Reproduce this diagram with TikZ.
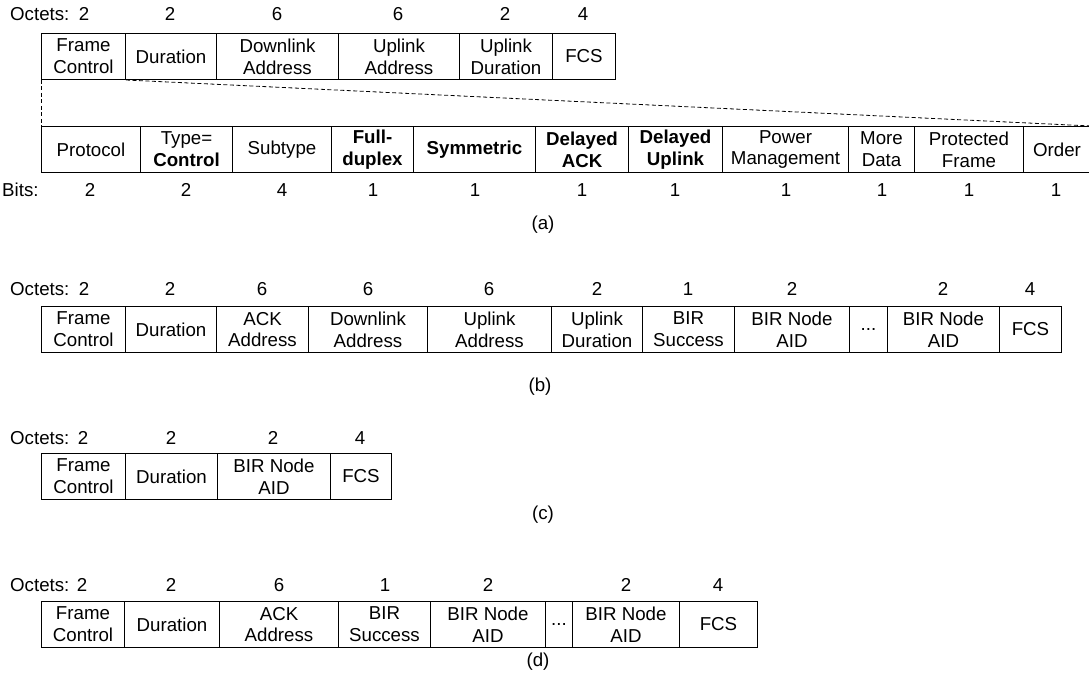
\documentclass[tikz,border=0pt]{standalone}
\usepackage{fontspec}
\setmainfont{Liberation Sans}
\newcommand\fldfont{\fontsize{18.7}{21.7}\selectfont}
\begin{document}
\begin{tikzpicture}[x=1pt,y=-1pt,
  fld/.style={draw, line width=1pt, anchor=north west, inner sep=0pt, minimum height=46pt, align=center, font=\fldfont},
  num/.style={inner sep=0pt, font=\fldfont},
  lab/.style={inner sep=0pt, font=\fldfont, anchor=west},
  zoomline/.style={line width=0.8pt, dash pattern=on 4pt off 2.5pt}]
\path[use as bounding box, fill=white] (0,0) rectangle (1089,682);

% ---------------- (a) top row ----------------
\node[lab] (oa) at (10,14) {Octets:};
\node[fld, minimum width=84pt]  (a1fc)  at (41,33)  {Frame\\Control};
\node[fld, minimum width=91pt]  (a1dur) at (125,33) {Duration};
\node[fld, minimum width=122pt] (a1dl)  at (216,33) {Downlink\\Address};
\node[fld, minimum width=121pt] (a1ul)  at (338,33) {Uplink\\Address};
\node[fld, minimum width=93pt]  (a1ud)  at (459,33) {Uplink\\Duration};
\node[fld, minimum width=63pt]  (a1fcs) at (552,33) {FCS};
\node[num] (na1) at (84,14) {2};
\node[num] (na2) at (170,14) {2};
\node[num] (na3) at (277,14) {6};
\node[num] (na4) at (398,14) {6};
\node[num] (na5) at (505,14) {2};
\node[num] (na6) at (583,14) {4};

% ---------------- (a) frame control bits ----------------
\node[fld, minimum width=99pt]  (a2pr)  at (41,126)  {Protocol};
\node[fld, minimum width=92pt]  (a2ty)  at (140,126) {Type=\\\textbf{Control}};
\node[fld, minimum width=99pt]  (a2st)  at (232,126) {Subtype};
\node[fld, minimum width=82pt]  (a2fd)  at (331,126) {\textbf{Full-}\\\textbf{duplex}};
\node[fld, minimum width=122pt] (a2sy)  at (413,126) {\textbf{Symmetric}};
\node[fld, minimum width=93pt]  (a2da)  at (535,126) {\textbf{Delayed}\\\textbf{ACK}};
\node[fld, minimum width=94pt]  (a2du)  at (628,126) {\textbf{Delayed}\\\textbf{Uplink}};
\node[fld, minimum width=126pt] (a2pm)  at (722,126) {Power\\Management};
\node[fld, minimum width=66pt]  (a2md)  at (848,126) {More\\Data};
\node[fld, minimum width=109pt] (a2pf)  at (914,126) {Protected\\Frame};
\node[fld, minimum width=67pt]  (a2or)  at (1023,126) {Order};
\node[lab] (bits) at (2,190) {Bits:};
\node[num] (nb1)  at (90,190) {2};
\node[num] (nb2)  at (186,190) {2};
\node[num] (nb3)  at (282,190) {4};
\node[num] (nb4)  at (373,190) {1};
\node[num] (nb5)  at (475,190) {1};
\node[num] (nb6)  at (582,190) {1};
\node[num] (nb7)  at (675,190) {1};
\node[num] (nb8)  at (786,190) {1};
\node[num] (nb9)  at (882,190) {1};
\node[num] (nb10) at (969,190) {1};
\node[num] (nb11) at (1056,190) {1};
\node[num] (capa) at (543,225) {(a)};

\draw[zoomline] (a1fc.south west) -- (a2pr.north west);
\draw[zoomline] (a1fc.south east) -- (a2or.north east);

% ---------------- (b) ----------------
\node[lab] (ob) at (10,289) {Octets:};
\node[fld, minimum width=84pt]  (bfc)   at (41,306)  {Frame\\Control};
\node[fld, minimum width=91pt]  (bdur)  at (125,306) {Duration};
\node[fld, minimum width=92pt]  (back)  at (216,306) {ACK\\Address};
\node[fld, minimum width=119pt] (bdl)   at (308,306) {Downlink\\Address};
\node[fld, minimum width=124pt] (bul)   at (427,306) {Uplink\\Address};
\node[fld, minimum width=91pt]  (bud)   at (551,306) {Uplink\\Duration};
\node[fld, minimum width=92pt]  (bbs)   at (642,306) {BIR\\Success};
\node[fld, minimum width=115pt] (bna1)  at (734,306) {BIR Node\\AID};
\node[fld, minimum width=38pt]  (bdots) at (849,306) {...};
\node[fld, minimum width=112pt] (bna2)  at (887,306) {BIR Node\\AID};
\node[fld, minimum width=62pt]  (bfcs)  at (999,306) {FCS};
\node[num] (nbb1)  at (84,289)   {2};
\node[num] (nbb2)  at (170,289)  {2};
\node[num] (nbb3)  at (262,289)  {6};
\node[num] (nbb4)  at (368,289)  {6};
\node[num] (nbb5)  at (489,289)  {6};
\node[num] (nbb6)  at (597,289)  {2};
\node[num] (nbb7)  at (688,289)  {1};
\node[num] (nbb8)  at (792,289)  {2};
\node[num] (nbb9)  at (943,289)  {2};
\node[num] (nbb10) at (1030,289) {4};
\node[num] (capb) at (540,387) {(b)};

% ---------------- (c) ----------------
\node[lab] (oc) at (10,438) {Octets:};
\node[fld, minimum width=84pt]  (cfc)  at (41,453)  {Frame\\Control};
\node[fld, minimum width=92pt]  (cdur) at (125,453) {Duration};
\node[fld, minimum width=113pt] (cna)  at (217,453) {BIR Node\\AID};
\node[fld, minimum width=61pt]  (cfcs) at (330,453) {FCS};
\node[num] (nc1) at (83,438)  {2};
\node[num] (nc2) at (171,438) {2};
\node[num] (nc3) at (273,438) {2};
\node[num] (nc4) at (360,438) {4};
\node[num] (capc) at (543,515) {(c)};

% ---------------- (d) ----------------
\node[lab] (od) at (10,585) {Octets:};
\node[fld, minimum width=83pt]  (dfc)   at (41,601)  {Frame\\Control};
\node[fld, minimum width=95pt]  (ddur)  at (124,601) {Duration};
\node[fld, minimum width=119pt] (dack)  at (219,601) {ACK\\Address};
\node[fld, minimum width=92pt]  (dbs)   at (338,601) {BIR\\Success};
\node[fld, minimum width=115pt] (dna1)  at (430,601) {BIR Node\\AID};
\node[fld, minimum width=27pt]  (ddots) at (545,601) {...};
\node[fld, minimum width=107pt] (dna2)  at (572,601) {BIR Node\\AID};
\node[fld, minimum width=78pt]  (dfcs)  at (679,601) {FCS};
\node[num] (nd1) at (82,585)  {2};
\node[num] (nd2) at (171,585) {2};
\node[num] (nd3) at (279,585) {6};
\node[num] (nd4) at (385,585) {1};
\node[num] (nd5) at (488,585) {2};
\node[num] (nd6) at (626,585) {2};
\node[num] (nd7) at (718,585) {4};
\node[num] (capd) at (538,662) {(d)};
\end{tikzpicture}
\end{document}
